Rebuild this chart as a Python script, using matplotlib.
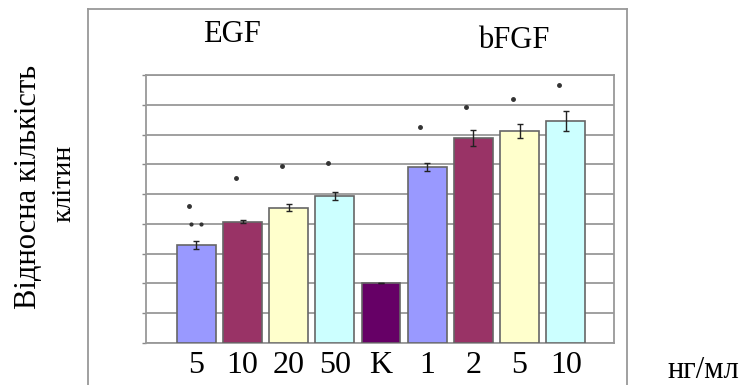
import matplotlib
matplotlib.use('Agg')
import matplotlib.pyplot as plt
from matplotlib.lines import Line2D

# relative cell counts, EGF and bFGF doses vs control (K)
doses = ['5', '10', '20', '50', 'K', '1', '2', '5', '10']
counts = [3.3, 4.07, 4.55, 4.94, 2.0, 5.9, 6.89, 7.11, 7.46]
errs = [0.13, 0.05, 0.12, 0.13, 0.0, 0.14, 0.27, 0.23, 0.33]
signif = [4.6, 5.53, 5.96, 6.03, None, 7.24, 7.93, 8.19, 8.68]
colors = ['#9999FF', '#993366', '#FFFFCC', '#CCFFFF', '#660066',
          '#9999FF', '#993366', '#FFFFCC', '#CCFFFF']

plt.rcParams['font.family'] = ['Liberation Serif', 'DejaVu Serif']

fig = plt.figure(figsize=(7.45, 3.85), dpi=100)
ax = fig.add_axes([146/745, 1 - 343/385, 468/745, 268/385])

x = list(range(len(doses)))
ax.bar(x, counts, width=0.84, color=colors, edgecolor='#666666', linewidth=1.2, zorder=3)
ax.errorbar(x, counts, yerr=errs, fmt='none', ecolor='#222222', elinewidth=1,
            capsize=2.5, capthick=1, zorder=4)
for xi, s in zip(x, signif):
    if s is not None:
        ax.plot(xi - 0.15, s, 'o', color='#333333', markersize=2.5, zorder=4)
# extra mark for the lowest EGF dose
ax.plot([-0.12, 0.1], [4.0, 4.0], 'o', color='#333333', markersize=2, zorder=4)

ax.set_xlim(-1.09, 9.045)
ax.set_ylim(0, 9)
ax.set_yticks(range(10))
ax.set_yticklabels([])
ax.tick_params(axis='y', length=3, color='#888888', width=1)
ax.set_xticks(x)
ax.set_xticklabels(doses, fontsize=23)
ax.tick_params(axis='x', length=0, pad=6)
ax.grid(axis='y', color='#999999', linewidth=1.3, zorder=0)
for sp in ax.spines.values():
    sp.set_color('#999999')
    sp.set_linewidth(1.3)

# outer chart border
fl, fr, ft = 88/745, 627/745, 1 - 9/385
for xs, ys in [([fl, fl], [0, ft]), ([fl, fr], [ft, ft]), ([fr, fr], [ft, 0])]:
    fig.add_artist(Line2D(xs, ys, color='#999999', linewidth=1.3))

fig.text(232/745, 1 - 35/385, 'EGF', fontsize=22, ha='center', va='center')
fig.text(514/745, 1 - 40/385, 'bFGF', fontsize=22, ha='center', va='center')
fig.text(29/745, 1 - 187/385, 'Відносна кількість', fontsize=22, rotation=90,
         ha='center', va='center')
fig.text(64/745, 1 - 183/385, 'клітин', fontsize=20, rotation=90,
         ha='center', va='center')
fig.text(703/745, 1 - 370/385, 'нг/мл', fontsize=22, ha='center', va='center')

plt.savefig('out.png', dpi=100)
